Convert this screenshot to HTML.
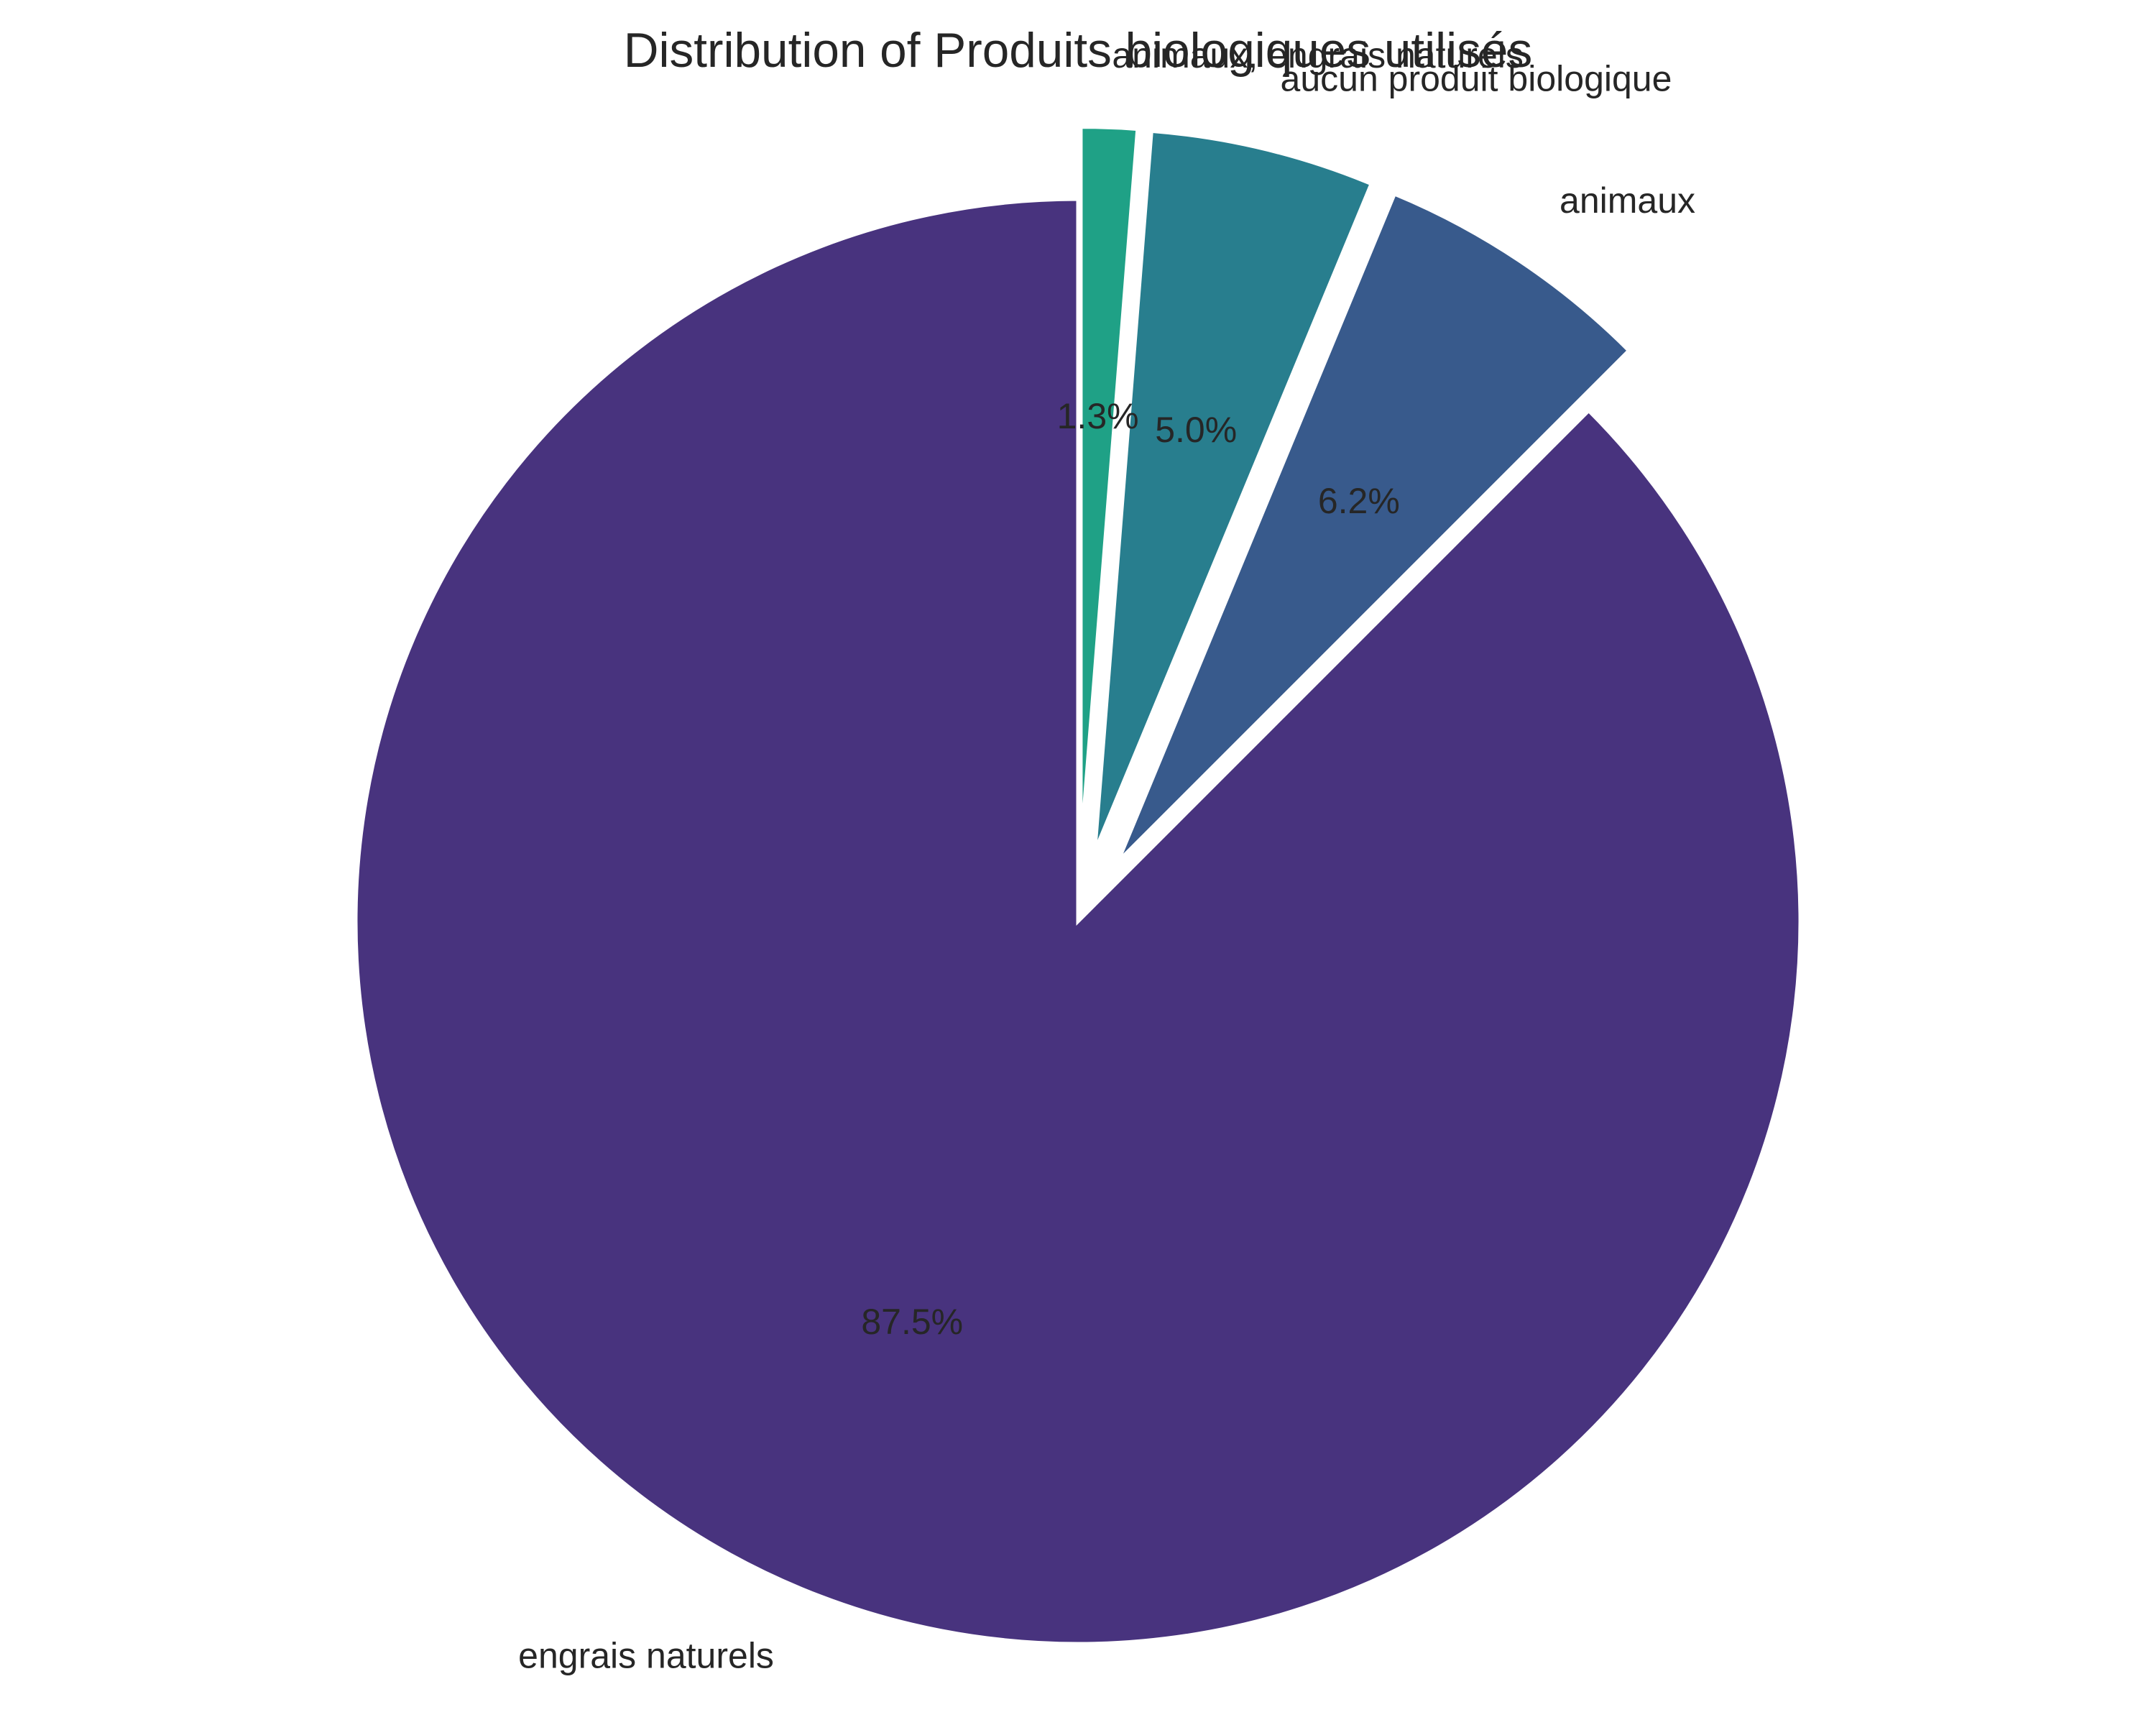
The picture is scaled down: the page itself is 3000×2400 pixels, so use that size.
<!DOCTYPE html>
<html><head><meta charset="utf-8"><style>
html,body{margin:0;padding:0;background:#fff;}
svg{display:block;font-family:"Liberation Sans",Arial,sans-serif;}
</style></head><body>
<svg id="chart" width="3000" height="2400" viewBox="0 0 3000 2400">
<text x="1500" y="93" text-anchor="middle" font-size="67.5" fill="#262626">Distribution of Produits biologiques utilisés</text>
<g id="slices"></g>
<g id="labels"></g>
</svg>
<script>
const categories = ["engrais naturels", "animaux", "aucun produit biologique", "animaux, engrais naturels"];
const counts = [70, 5, 4, 1];
const pctLabels = ["87.5%", "6.2%", "5.0%", "1.3%"];
const explodes = [0, 0.1, 0.1, 0.1];
const colors = ["#48337e", "#385a8c", "#287e8e", "#1fa186"];

const cx = 1500, cy = 1282, R = 1005;
const NS = "http://www.w3.org/2000/svg";
const total = counts.reduce((a, b) => a + b, 0);
const gS = document.getElementById("slices"), gL = document.getElementById("labels");
function pt(ox, oy, r, deg) { const a = deg * Math.PI / 180; return [ox + r * Math.cos(a), oy - r * Math.sin(a)]; }
let start = 90;
counts.forEach((v, i) => {
  const sweep = v / total * 360;
  const end = start + sweep, mid = start + sweep / 2;
  const [ox, oy] = pt(cx, cy, explodes[i] * R, mid);
  const [x1, y1] = pt(ox, oy, R, start);
  const [x2, y2] = pt(ox, oy, R, end);
  const large = sweep > 180 ? 1 : 0;
  const p = document.createElementNS(NS, "path");
  p.setAttribute("d", `M${ox},${oy} L${x1},${y1} A${R},${R} 0 ${large} 0 ${x2},${y2} Z`);
  p.setAttribute("fill", colors[i]);
  p.setAttribute("stroke", "#fff");
  p.setAttribute("stroke-width", "5");
  p.setAttribute("stroke-linejoin", "miter");
  
  
  gS.appendChild(p);
  const [lx, ly] = pt(ox, oy, 1.1 * R, mid);
  const t = document.createElementNS(NS, "text");
  t.setAttribute("x", lx); t.setAttribute("y", ly + 17);
  t.setAttribute("font-size", "50"); t.setAttribute("fill", "#262626");
  t.setAttribute("text-anchor", lx < cx ? "end" : "start");
  t.textContent = categories[i];
  
  
  gL.appendChild(t);
  const [px, py] = pt(ox, oy, 0.6 * R, mid);
  const t2 = document.createElementNS(NS, "text");
  t2.setAttribute("x", px); t2.setAttribute("y", py + 17);
  t2.setAttribute("font-size", "50"); t2.setAttribute("fill", "#262626");
  t2.setAttribute("text-anchor", "middle");
  t2.textContent = pctLabels[i];
  
  
  gL.appendChild(t2);
  start = end;
});
</script>
</body></html>
